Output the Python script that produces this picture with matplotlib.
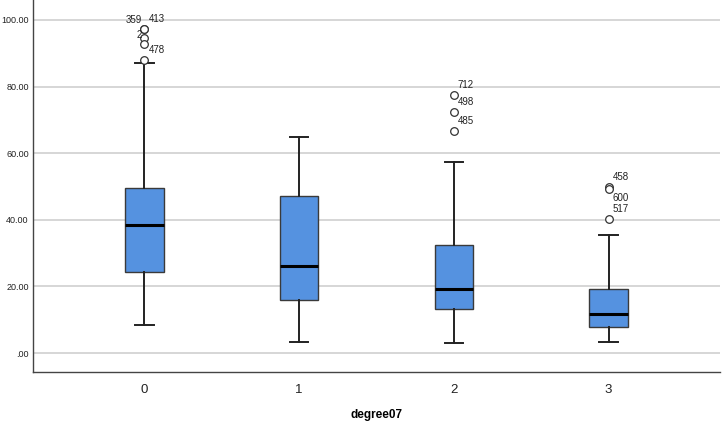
import matplotlib
matplotlib.use("Agg")
import matplotlib.pyplot as plt

plt.rcParams['font.family'] = ['Liberation Sans', 'DejaVu Sans']

# --- データ ---
groups = [0, 1, 2, 3]
whisker_lo = [8.3, 3.2, 3.1, 3.3]
q1 = [24.4, 16.0, 13.3, 7.8]
medians = [38.5, 26.0, 19.3, 11.6]
q3 = [49.6, 47.2, 32.4, 19.1]
whisker_hi = [87.0, 64.9, 57.3, 35.4]

# 外れ値とそのケース番号
outliers = [
    [97.2, 97.2, 94.7, 92.8, 88.0],
    [],
    [77.4, 72.4, 66.8],
    [49.8, 49.3, 40.1],
]
outlier_ids = [
    ["359", "413", "", "2", "478"],
    [],
    ["712", "498", "485"],
    ["458", "600", "517"],
]
label_side = [
    ["l", "r", "r", "l", "r"],
    [],
    ["r", "r", "r"],
    ["r", "rd", "r"],
]

y_ticks = [0, 20, 40, 60, 80, 100]
y_ticklabels = [".00", "20.00", "40.00", "60.00", "80.00", "100.00"]

# --- 描画 ---
fig = plt.figure(figsize=(7.23, 4.22), dpi=100)
ax = fig.add_axes([0.0456, 0.1185, 0.9503, 0.8815])

stats = []
for i, g in enumerate(groups):
    stats.append({
        "label": str(g),
        "whislo": whisker_lo[i],
        "q1": q1[i],
        "med": medians[i],
        "q3": q3[i],
        "whishi": whisker_hi[i],
        "fliers": outliers[i],
    })

ax.bxp(stats, positions=groups, widths=0.25, capwidths=0.12,
       patch_artist=True, showfliers=True,
       boxprops=dict(facecolor="#5592e0", edgecolor="#3a3a3a", linewidth=1.0),
       medianprops=dict(color="black", linewidth=2.2),
       whiskerprops=dict(color="#222222", linewidth=1.4),
       capprops=dict(color="#222222", linewidth=1.4),
       flierprops=dict(marker="o", markersize=5.5, markerfacecolor="white",
                       markeredgecolor="#333333", markeredgewidth=0.9))

# ケース番号のラベル
for i, g in enumerate(groups):
    for v, lab, side in zip(outliers[i], outlier_ids[i], label_side[i]):
        if not lab:
            continue
        if side == "l":
            ax.annotate(lab, (g, v), xytext=(-2, 9), textcoords="offset pixels",
                        ha="right", va="center", fontsize=7, color="#222222")
        elif side == "rd":
            ax.annotate(lab, (g, v), xytext=(4, -9), textcoords="offset pixels",
                        ha="left", va="center", fontsize=7, color="#222222")
        else:
            ax.annotate(lab, (g, v), xytext=(4, 10), textcoords="offset pixels",
                        ha="left", va="center", fontsize=7, color="#222222")

ax.set_xlim(-0.72, 3.72)
ax.set_ylim(-5.7, 106)
ax.set_yticks(y_ticks)
ax.set_yticklabels(y_ticklabels, fontsize=6.5, color="#222222")
ax.set_xticks(groups)
ax.set_xticklabels([str(g) for g in groups], fontsize=9.5, color="#222222")
ax.tick_params(length=0, pad=9, axis="x")
ax.tick_params(length=0, pad=3, axis="y")

ax.yaxis.grid(True, color="#cfcfcf", linewidth=1.2)
ax.set_axisbelow(True)
for s in ["top", "right"]:
    ax.spines[s].set_visible(False)
for s in ["left", "bottom"]:
    ax.spines[s].set_color("#444444")
    ax.spines[s].set_linewidth(1.0)

ax.set_xlabel("degree07", fontsize=8.5, fontweight="bold", labelpad=9)

fig.savefig("out.png", dpi=100)
